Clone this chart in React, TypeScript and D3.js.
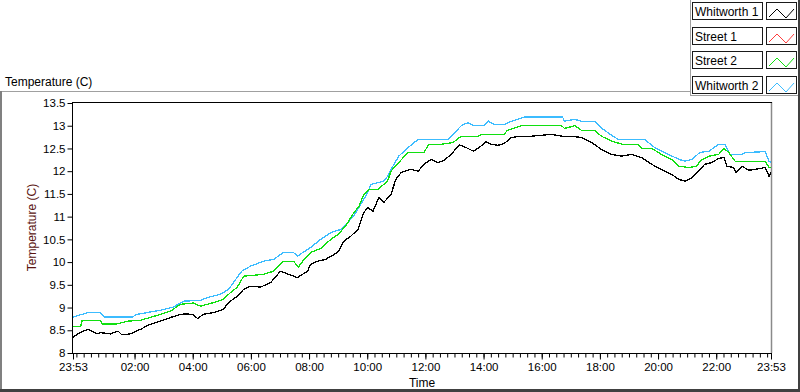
import { useEffect, useRef } from 'react';
import * as d3 from 'd3';

// minutes after the 23:53 start, value in C
const blackMinutes = [0, 14, 31, 50, 56, 77, 93, 101, 118, 139, 159, 180, 201, 221, 236, 248, 257, 269, 290, 310, 321, 339, 352, 366, 387, 408, 428, 445, 463, 484, 490, 505, 521, 532, 546, 559, 573, 588, 600, 608, 619, 631, 641, 656, 666, 677, 697, 712, 724, 739, 753, 766, 780, 797, 811, 826, 838, 852, 863, 877, 890, 904, 925, 946, 966, 987, 1008, 1028, 1049, 1070, 1090, 1111, 1132, 1152, 1173, 1194, 1214, 1235, 1250, 1262, 1277, 1291, 1303, 1318, 1332, 1343, 1349, 1363, 1368, 1380, 1394, 1407, 1428, 1436, 1440];
const blackValues = [8.35, 8.45, 8.52, 8.42, 8.45, 8.42, 8.48, 8.40, 8.42, 8.52, 8.63, 8.70, 8.78, 8.85, 8.86, 8.84, 8.76, 8.85, 8.89, 8.96, 9.11, 9.25, 9.40, 9.47, 9.45, 9.55, 9.80, 9.73, 9.66, 9.80, 9.95, 10.02, 10.06, 10.13, 10.21, 10.46, 10.57, 10.72, 11.09, 11.20, 11.12, 11.42, 11.31, 11.49, 11.82, 11.97, 12.04, 12.00, 12.15, 12.26, 12.19, 12.24, 12.37, 12.58, 12.52, 12.44, 12.52, 12.65, 12.59, 12.57, 12.61, 12.74, 12.77, 12.77, 12.79, 12.81, 12.77, 12.77, 12.74, 12.63, 12.48, 12.37, 12.33, 12.37, 12.30, 12.15, 12.04, 11.93, 11.82, 11.78, 11.86, 12.00, 12.15, 12.19, 12.28, 12.30, 12.11, 12.08, 11.97, 12.11, 12.02, 12.04, 12.08, 11.89, 11.97];

const greenMinutes = [0, 16, 19, 56, 60, 91, 112, 139, 159, 180, 201, 221, 248, 263, 290, 310, 325, 339, 352, 393, 414, 434, 455, 465, 474, 490, 511, 532, 546, 563, 577, 590, 600, 611, 629, 641, 649, 656, 672, 691, 724, 734, 759, 784, 801, 836, 842, 890, 896, 925, 1008, 1014, 1035, 1049, 1076, 1090, 1111, 1138, 1167, 1173, 1194, 1214, 1235, 1250, 1270, 1287, 1293, 1312, 1332, 1343, 1353, 1366, 1428, 1436, 1440];
const greenValues = [8.59, 8.59, 8.72, 8.72, 8.64, 8.64, 8.70, 8.72, 8.78, 8.85, 8.92, 9.07, 9.10, 9.03, 9.11, 9.18, 9.33, 9.45, 9.69, 9.73, 9.80, 10.02, 10.02, 9.89, 10.02, 10.21, 10.30, 10.50, 10.60, 10.80, 11.05, 11.23, 11.49, 11.60, 11.60, 11.71, 11.78, 12.00, 12.19, 12.41, 12.41, 12.59, 12.59, 12.63, 12.77, 12.77, 12.81, 12.81, 12.90, 13.00, 13.00, 12.94, 13.00, 12.90, 12.90, 12.77, 12.66, 12.58, 12.58, 12.50, 12.50, 12.37, 12.26, 12.11, 12.08, 12.11, 12.22, 12.33, 12.37, 12.50, 12.41, 12.22, 12.22, 12.08, 12.08];

const blueMinutes = [0, 31, 56, 66, 122, 132, 180, 207, 228, 263, 277, 304, 321, 331, 348, 366, 393, 414, 434, 455, 463, 474, 490, 511, 532, 553, 567, 581, 596, 608, 615, 641, 649, 662, 672, 687, 712, 774, 801, 815, 828, 848, 857, 869, 890, 898, 931, 1010, 1014, 1035, 1049, 1076, 1090, 1111, 1125, 1179, 1200, 1221, 1250, 1262, 1277, 1293, 1312, 1332, 1345, 1355, 1380, 1387, 1428, 1436, 1440];
const blueValues = [8.79, 8.89, 8.89, 8.79, 8.79, 8.85, 8.94, 9.01, 9.14, 9.16, 9.22, 9.29, 9.40, 9.55, 9.80, 9.91, 10.02, 10.06, 10.21, 10.21, 10.13, 10.21, 10.32, 10.50, 10.65, 10.72, 10.87, 11.05, 11.31, 11.53, 11.71, 11.78, 11.89, 12.15, 12.33, 12.48, 12.70, 12.70, 13.00, 13.07, 13.00, 13.00, 13.10, 13.03, 13.03, 13.07, 13.19, 13.19, 13.10, 13.14, 13.10, 13.10, 12.95, 12.79, 12.70, 12.70, 12.52, 12.41, 12.26, 12.22, 12.26, 12.41, 12.44, 12.59, 12.59, 12.37, 12.37, 12.41, 12.43, 12.22, 12.19];

const legendNames = ['Whitworth 1', 'Street 1', 'Street 2', 'Whitworth 2'];
const legendColors = ['#000000', '#ff3c3c', '#10e010', '#3cbcff'];

const yTicks = [8, 8.5, 9, 9.5, 10, 10.5, 11, 11.5, 12, 12.5, 13, 13.5];
const xTickLabels = ['23:53', '02:00', '04:00', '06:00', '08:00', '10:00', '12:00', '14:00', '16:00', '18:00', '20:00', '22:00', '23:53'];

const W = 800;
const H = 392;
const FONT = '"Liberation Sans", Arial, sans-serif';

export default function App() {
    const svgRef = useRef<SVGSVGElement>(null);

    useEffect(() => {
        if (!svgRef.current) return;
        const svg = d3.select(svgRef.current);
        svg.selectAll('*').remove();

        const start = new Date(2000, 0, 1, 23, 53);
        const end = new Date(start.getTime() + 24 * 3600 * 1000);
        const at = (m: number) => new Date(start.getTime() + m * 60000);

        const plot = { left: 72, right: 772, top: 102, bottom: 353 };
        const x = d3.scaleTime().domain([start, end]).range([73, 771]);
        const y = d3.scaleLinear().domain([8, 13.5]).range([353, 103]);

        svg.append('rect').attr('width', W).attr('height', H).attr('fill', '#fff');

        // outer frame
        svg.append('line').attr('x1', 0).attr('x2', 690).attr('y1', 91.5).attr('y2', 91.5).attr('stroke', '#a0a0a0');
        svg.append('line').attr('x1', 690.5).attr('x2', 690.5).attr('y1', 0).attr('y2', 96).attr('stroke', '#a0a0a0');
        svg.append('line').attr('x1', 690).attr('x2', 798).attr('y1', 95.5).attr('y2', 95.5).attr('stroke', '#a0a0a0');
        svg.append('rect').attr('x', 0).attr('y', 91).attr('width', 2).attr('height', 300).attr('fill', '#808080');
        svg.append('rect').attr('x', 798).attr('y', 0).attr('width', 2).attr('height', H).attr('fill', '#404040');
        svg.append('rect').attr('x', 0).attr('y', 389).attr('width', W).attr('height', 3).attr('fill', '#404040');

        svg.append('text').attr('x', 5).attr('y', 86).attr('font-family', FONT).attr('font-size', 12)
            .attr('fill', '#000').text('Temperature (C)');

        // plot border
        svg.append('line').attr('x1', plot.right - 0.5).attr('x2', plot.right - 0.5)
            .attr('y1', plot.top).attr('y2', plot.bottom).attr('stroke', '#8a8a8a').attr('stroke-width', 1.5);
        svg.append('line').attr('x1', plot.left).attr('x2', plot.right).attr('y1', plot.top + 0.5).attr('y2', plot.top + 0.5)
            .attr('stroke', '#000');

        // series
        svg.append('clipPath').attr('id', 'plotclip').append('rect')
            .attr('x', plot.left + 1).attr('y', plot.top + 1)
            .attr('width', plot.right - plot.left - 2).attr('height', plot.bottom - plot.top - 1);
        const line = d3.line<[number, number]>()
            .x(d => x(at(d[0])))
            .y(d => y(d[1]));
        const series: [number[], number[], string][] = [
            [blueMinutes, blueValues, legendColors[3]],
            [greenMinutes, greenValues, legendColors[2]],
            [blackMinutes, blackValues, legendColors[0]],
        ];
        const g = svg.append('g').attr('clip-path', 'url(#plotclip)');
        series.forEach(([ms, vs, color]) => {
            g.append('path')
                .datum(ms.map((m, i) => [m, vs[i]] as [number, number]))
                .attr('d', line)
                .attr('fill', 'none')
                .attr('stroke', color)
                .attr('stroke-width', 1.3)
                .attr('shape-rendering', 'crispEdges');
        });

        // y axis
        const yAxis = svg.append('g').attr('transform', `translate(${plot.left + 0.5},0)`)
            .call(d3.axisLeft(y).tickValues(yTicks).tickSize(5).tickSizeOuter(0).tickPadding(2)
                .tickFormat(d => String(d)));
        yAxis.select('.domain').attr('d', `M0,${plot.top}V${plot.bottom + 0.5}`).attr('stroke', '#000');
        yAxis.selectAll('text').attr('font-family', FONT).attr('font-size', 11.5).attr('fill', '#000');

        // x axis
        const majorTicks = xTickLabels.map((lab, i) => {
            if (i === xTickLabels.length - 1) return end;
            const [hh, mm] = lab.split(':').map(Number);
            const mins = ((hh * 60 + mm) - (23 * 60 + 53) + 1440) % 1440;
            return at(mins);
        });
        const minorTicks = d3.timeMinute.every(15)!.range(start, end);
        const xMinor = svg.append('g').attr('transform', `translate(0,${plot.bottom + 0.5})`)
            .call(d3.axisBottom(x).tickValues(minorTicks).tickSize(4).tickSizeOuter(0).tickFormat(() => ''));
        xMinor.select('.domain').remove();
        const xAxis = svg.append('g').attr('transform', `translate(0,${plot.bottom + 0.5})`)
            .call(d3.axisBottom(x).tickValues(majorTicks).tickSize(6).tickSizeOuter(0).tickPadding(3)
                .tickFormat((d, i) => xTickLabels[i]));
        xAxis.select('.domain').attr('d', `M${plot.left},0H${plot.right}`).attr('stroke', '#000');
        xAxis.selectAll('text').attr('font-family', FONT).attr('font-size', 11.5).attr('fill', '#000');
        svg.selectAll('.tick line').attr('stroke', '#000');

        svg.append('text').attr('x', (plot.left + plot.right) / 2).attr('y', 387).attr('text-anchor', 'middle')
            .attr('font-family', FONT).attr('font-size', 12).attr('fill', '#000').text('Time');
        svg.append('text').attr('transform', `translate(36,${(plot.top + plot.bottom) / 2}) rotate(-90)`)
            .attr('text-anchor', 'middle').attr('font-family', FONT).attr('font-size', 12)
            .attr('fill', '#5a1410').text('Temperature (C)');

        // legend
        const tops = legendNames.map((_, i) => 2 + i * 24.7);
        const leg = svg.append('g');
        legendNames.forEach((name, i) => {
            const t = Math.round(tops[i]);
            leg.append('rect').attr('x', 692.5).attr('y', t + 0.5).attr('width', 70).attr('height', 17)
                .attr('fill', '#fff').attr('stroke', '#1a1a1a');
            leg.append('text').attr('x', 695).attr('y', t + 14).attr('font-family', FONT).attr('font-size', 12)
                .attr('fill', '#000').text(name);
            leg.append('rect').attr('x', 766.5).attr('y', t + 0.5).attr('width', 30).attr('height', 17)
                .attr('fill', '#fff').attr('stroke', '#1a1a1a');
            leg.append('path')
                .attr('d', `M769,${t + 15}L777,${t + 7}L786,${t + 16}L794,${t + 7}`)
                .attr('fill', 'none').attr('stroke', legendColors[i]).attr('stroke-width', 1);
        });
    }, []);

    return (
        <svg ref={svgRef} width={W} height={H}
            style={{ position: 'absolute', left: 0, top: 0, display: 'block' }} />
    );
}
